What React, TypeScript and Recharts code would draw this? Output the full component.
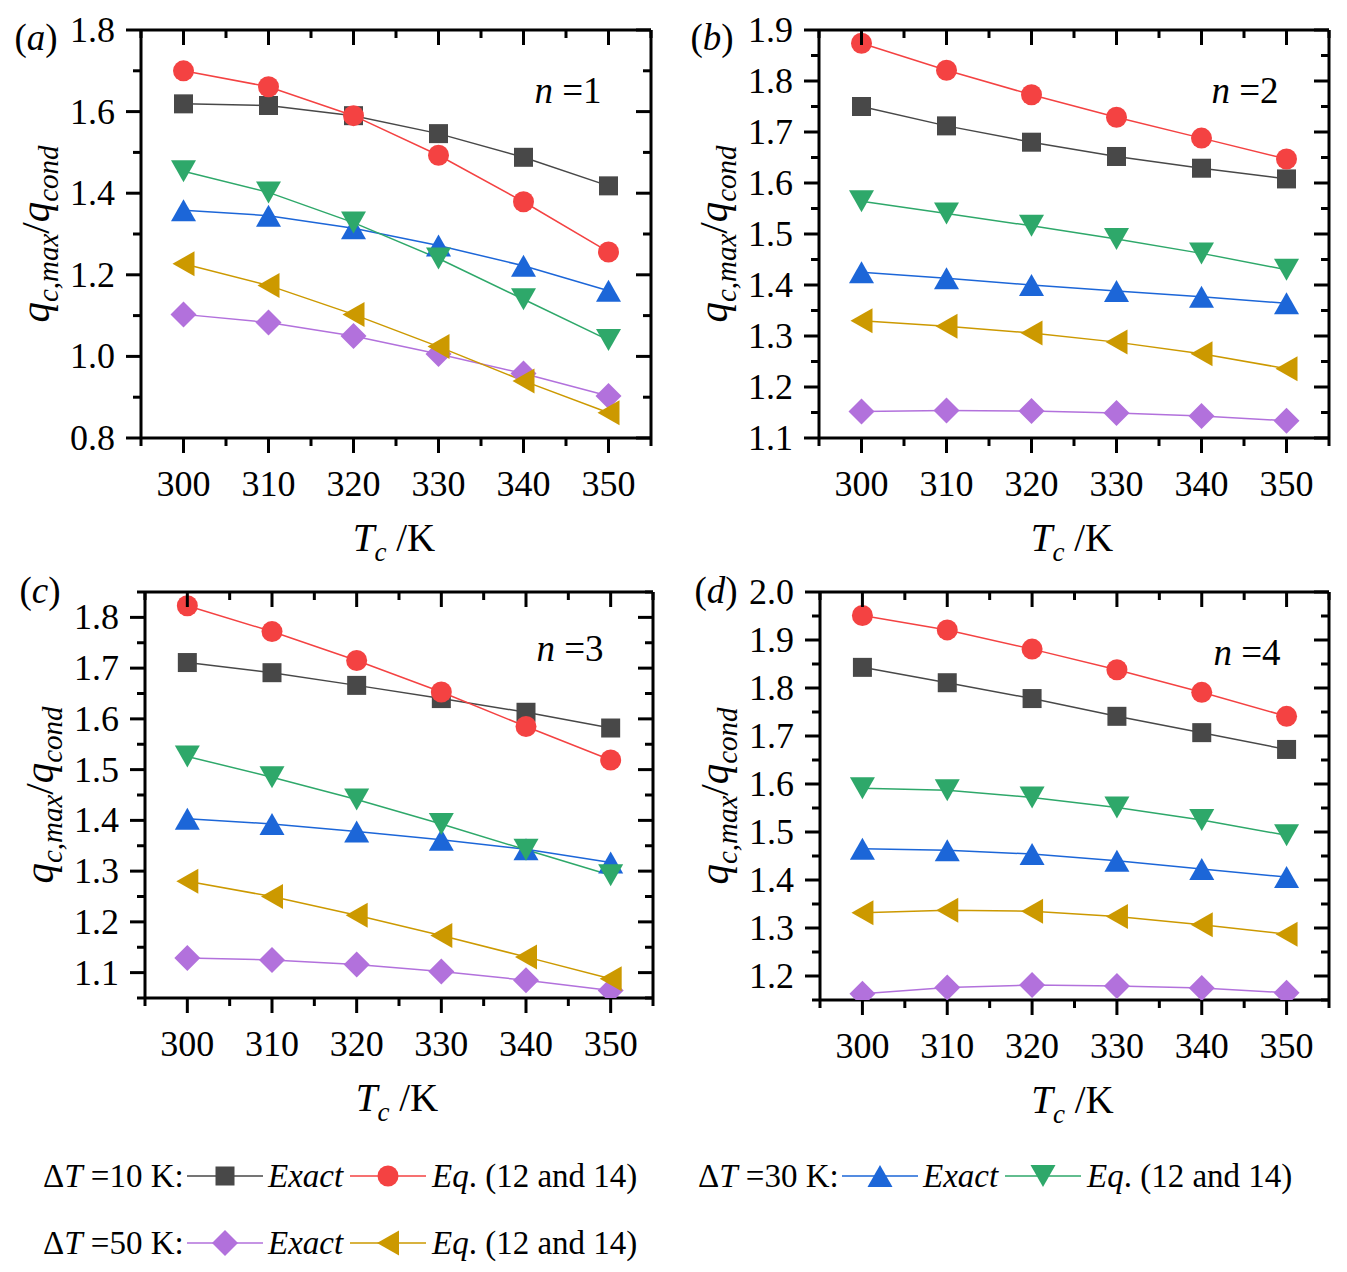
import React from 'react';
import { LineChart, Line, XAxis, YAxis, ReferenceLine } from 'recharts';

const FONT = '"Liberation Serif", "Times New Roman", serif';

// shared x values (T_c / K)
const TC = [300, 310, 320, 330, 340, 350];
const X_TICKS = [295, 300, 305, 310, 315, 320, 325, 330, 335, 340, 345, 350, 355];
const X_LABELS = [300, 310, 320, 330, 340, 350];

// (a) n = 1
const A_EXACT_10 = [1.619, 1.615, 1.59, 1.546, 1.488, 1.418];
const A_EQ_10 = [1.7, 1.661, 1.59, 1.493, 1.379, 1.256];
const A_EXACT_30 = [1.358, 1.345, 1.314, 1.272, 1.222, 1.161];
const A_EQ_30 = [1.454, 1.402, 1.328, 1.24, 1.14, 1.04];
const A_EXACT_50 = [1.103, 1.083, 1.05, 1.006, 0.958, 0.903];
const A_EQ_50 = [1.227, 1.174, 1.103, 1.024, 0.94, 0.862];
const A_Y_TICKS = [0.8, 0.9, 1.0, 1.1, 1.2, 1.3, 1.4, 1.5, 1.6, 1.7, 1.8];
const A_Y_LABELS = [0.8, 1.0, 1.2, 1.4, 1.6, 1.8];

// (b) n = 2
const B_EXACT_10 = [1.75, 1.712, 1.68, 1.652, 1.629, 1.608];
const B_EQ_10 = [1.874, 1.821, 1.773, 1.729, 1.688, 1.647];
const B_EXACT_30 = [1.425, 1.413, 1.4, 1.388, 1.377, 1.364];
const B_EQ_30 = [1.564, 1.54, 1.516, 1.49, 1.462, 1.43];
const B_EXACT_50 = [1.152, 1.154, 1.153, 1.149, 1.143, 1.134];
const B_EQ_50 = [1.33, 1.319, 1.306, 1.288, 1.265, 1.236];
const B_Y_TICKS = [1.1, 1.15, 1.2, 1.25, 1.3, 1.35, 1.4, 1.45, 1.5, 1.55, 1.6, 1.65, 1.7, 1.75, 1.8, 1.85, 1.9];
const B_Y_LABELS = [1.1, 1.2, 1.3, 1.4, 1.5, 1.6, 1.7, 1.8, 1.9];

// (c) n = 3
const C_EXACT_10 = [1.711, 1.691, 1.666, 1.64, 1.613, 1.582];
const C_EQ_10 = [1.823, 1.772, 1.715, 1.653, 1.585, 1.519];
const C_EXACT_30 = [1.403, 1.393, 1.378, 1.362, 1.343, 1.317];
const C_EQ_30 = [1.526, 1.485, 1.441, 1.393, 1.342, 1.292];
const C_EXACT_50 = [1.129, 1.125, 1.116, 1.102, 1.085, 1.065];
const C_EQ_50 = [1.28, 1.25, 1.213, 1.173, 1.131, 1.088];
const C_Y_TICKS = [1.05, 1.1, 1.15, 1.2, 1.25, 1.3, 1.35, 1.4, 1.45, 1.5, 1.55, 1.6, 1.65, 1.7, 1.75, 1.8, 1.85];
const C_Y_LABELS = [1.1, 1.2, 1.3, 1.4, 1.5, 1.6, 1.7, 1.8];

// (d) n = 4
const D_EXACT_10 = [1.843, 1.811, 1.778, 1.741, 1.707, 1.672];
const D_EQ_10 = [1.951, 1.921, 1.881, 1.838, 1.791, 1.741];
const D_EXACT_30 = [1.465, 1.462, 1.454, 1.44, 1.423, 1.406];
const D_EQ_30 = [1.591, 1.587, 1.572, 1.551, 1.525, 1.493];
const D_EXACT_50 = [1.163, 1.176, 1.181, 1.179, 1.175, 1.165];
const D_EQ_50 = [1.332, 1.337, 1.335, 1.324, 1.307, 1.287];
const D_Y_TICKS = [1.15, 1.2, 1.25, 1.3, 1.35, 1.4, 1.45, 1.5, 1.55, 1.6, 1.65, 1.7, 1.75, 1.8, 1.85, 1.9, 1.95, 2.0];
const D_Y_LABELS = [1.2, 1.3, 1.4, 1.5, 1.6, 1.7, 1.8, 1.9, 2.0];

type Shape = 'square' | 'circle' | 'up' | 'down' | 'diamond' | 'left';

const SERIES: { key: string; color: string; shape: Shape }[] = [
  { key: 'exact10', color: '#484848', shape: 'square' },
  { key: 'eq10', color: '#f44242', shape: 'circle' },
  { key: 'exact30', color: '#1c66d8', shape: 'up' },
  { key: 'eq30', color: '#2ea86a', shape: 'down' },
  { key: 'exact50', color: '#b271dc', shape: 'diamond' },
  { key: 'eq50', color: '#cc9900', shape: 'left' },
];

function Marker({ shape, cx, cy, color }: { shape: Shape; cx: number; cy: number; color: string }) {
  if (cx == null || cy == null || isNaN(cx) || isNaN(cy)) return null;
  switch (shape) {
    case 'square':
      return <rect x={cx - 9.5} y={cy - 9.5} width={19} height={19} fill={color} />;
    case 'circle':
      return <circle cx={cx} cy={cy} r={10.5} fill={color} />;
    case 'up':
      return <polygon points={`${cx},${cy - 11} ${cx + 12.5},${cy + 11} ${cx - 12.5},${cy + 11}`} fill={color} />;
    case 'down':
      return <polygon points={`${cx - 12.5},${cy - 11} ${cx + 12.5},${cy - 11} ${cx},${cy + 11}`} fill={color} />;
    case 'left':
      return <polygon points={`${cx - 11},${cy} ${cx + 11},${cy - 12.5} ${cx + 11},${cy + 12.5}`} fill={color} />;
    default:
      return <polygon points={`${cx},${cy - 13} ${cx + 13},${cy} ${cx},${cy + 13} ${cx - 13},${cy}`} fill={color} />;
  }
}

const near = (list: number[], v: number) => list.some((m) => Math.abs(m - v) < 1e-6);

// bottom tick (outward) + mirrored top tick (inward)
function XTick(props: any) {
  const { x, y, payload, plotH } = props;
  const v = payload.value;
  const major = near(X_LABELS, v);
  const len = major ? 15 : 8;
  return (
    <g>
      <line x1={x} y1={y} x2={x} y2={y + len} stroke="#000" strokeWidth={3} />
      <line x1={x} y1={y - plotH} x2={x} y2={y - plotH + len} stroke="#000" strokeWidth={3} />
      {major && (
        <text x={x} y={y + 58} textAnchor="middle" fontFamily={FONT} fontSize={36} fill="#000">
          {v}
        </text>
      )}
    </g>
  );
}

// left tick (outward) + mirrored right tick (inward)
function YTick(props: any) {
  const { x, y, payload, plotW, labels } = props;
  const v = payload.value;
  const major = near(labels, v);
  const len = major ? 15 : 8;
  return (
    <g>
      <line x1={x - len} y1={y} x2={x} y2={y} stroke="#000" strokeWidth={3} />
      <line x1={x + plotW - len} y1={y} x2={x + plotW} y2={y} stroke="#000" strokeWidth={3} />
      {major && (
        <text x={x - 26} y={y + 12} textAnchor="end" fontFamily={FONT} fontSize={36} fill="#000">
          {v.toFixed(1)}
        </text>
      )}
    </g>
  );
}

interface PanelProps {
  left: number;
  top: number;
  w: number;
  h: number;
  series: number[][];
  yDomain: [number, number];
  yTicks: number[];
  yLabels: number[];
  letter: string;
  n: number;
  nPos: [number, number];
  letterPos: [number, number];
}

const center = (x: number, y: number): React.CSSProperties => ({
  position: 'absolute',
  left: x,
  top: y,
  transform: 'translate(-50%, -50%)',
  whiteSpace: 'nowrap',
  lineHeight: 1,
  fontFamily: FONT,
  color: '#000',
});

function Panel({ left, top, w, h, series, yDomain, yTicks, yLabels, letter, n, nPos, letterPos }: PanelProps) {
  const data = TC.map((tc, i) => {
    const row: Record<string, number> = { tc };
    SERIES.forEach((s, k) => {
      row[s.key] = series[k][i];
    });
    return row;
  });
  const YW = 141;
  const XH = 122;
  return (
    <>
      <div style={{ position: 'absolute', left: left - YW, top: top - 30 }}>
        <LineChart
          width={YW + w + 20}
          height={30 + h + XH}
          data={data}
          margin={{ top: 30, right: 20, bottom: 0, left: 0 }}
        >
          <XAxis
            type="number"
            dataKey="tc"
            domain={[295, 355]}
            ticks={X_TICKS}
            interval={0}
            height={XH}
            tickSize={0}
            tickMargin={0}
            tickLine={false}
            axisLine={{ stroke: '#000', strokeWidth: 3 }}
            tick={(p: any) => <XTick {...p} plotH={h} />}
            allowDataOverflow
          />
          <YAxis
            type="number"
            domain={yDomain}
            ticks={yTicks}
            interval={0}
            width={YW}
            tickSize={0}
            tickMargin={0}
            tickLine={false}
            axisLine={{ stroke: '#000', strokeWidth: 3 }}
            tick={(p: any) => <YTick {...p} plotW={w} labels={yLabels} />}
            allowDataOverflow
          />
          <ReferenceLine y={yDomain[1]} stroke="#000" strokeWidth={3} />
          <ReferenceLine x={355} stroke="#000" strokeWidth={3} />
          {SERIES.map((s) => (
            <Line
              key={s.key}
              type="linear"
              dataKey={s.key}
              stroke={s.color}
              strokeWidth={1.5}
              isAnimationActive={false}
              dot={(p: any) => (
                <Marker key={`${s.key}-${p.index}`} shape={s.shape} cx={p.cx} cy={p.cy} color={s.color} />
              )}
              activeDot={false}
            />
          ))}
        </LineChart>
      </div>
      <div style={{ ...center(letterPos[0], letterPos[1]), fontSize: 37 }}>
        (<i>{letter}</i>)
      </div>
      <div style={{ ...center(nPos[0], nPos[1]), fontSize: 37 }}>
        <i>n</i> =<span>{n}</span>
      </div>
      <div style={{ ...center(left - 102, top + h / 2), fontSize: 41, transform: 'translate(-50%, -50%) rotate(-90deg)' }}>
        <i>q</i>
        <i style={{ fontSize: 29, verticalAlign: '-0.3em' }}>c,max</i>/<i>q</i>
        <i style={{ fontSize: 29, verticalAlign: '-0.3em' }}>cond</i>
      </div>
      <div style={{ ...center(left + w / 2 - 2, top + h + 104), fontSize: 39 }}>
        <i>T</i>
        <i style={{ fontSize: 27, verticalAlign: '-0.4em' }}>c</i> /K
      </div>
    </>
  );
}

function LegendSymbol({ shape, color, x, y }: { shape: Shape; color: string; x: number; y: number }) {
  return (
    <svg style={{ position: 'absolute', left: x, top: y - 20 }} width={76} height={40}>
      <line x1={0} y1={20} x2={76} y2={20} stroke={color} strokeWidth={2} opacity={0.75} />
      <Marker shape={shape} cx={38} cy={20} color={color} />
    </svg>
  );
}

function LegendText({ x, y, children }: { x: number; y: number; children: React.ReactNode }) {
  return (
    <div
      style={{
        position: 'absolute',
        left: x,
        top: y,
        transform: 'translateY(-50%)',
        fontFamily: FONT,
        fontSize: 33,
        lineHeight: 1,
        whiteSpace: 'nowrap',
        color: '#000',
      }}
    >
      {children}
    </div>
  );
}

function LegendGroup({ x, y, dt, a, b }: { x: number; y: number; dt: number; a: number; b: number }) {
  const sa = SERIES[a];
  const sb = SERIES[b];
  return (
    <>
      <LegendText x={x} y={y}>
        Δ<i>T</i> ={dt} K:
      </LegendText>
      <LegendSymbol shape={sa.shape} color={sa.color} x={x + 144} y={y} />
      <LegendText x={x + 225} y={y}>
        <i>Exact</i>
      </LegendText>
      <LegendSymbol shape={sb.shape} color={sb.color} x={x + 307} y={y} />
      <LegendText x={x + 389} y={y}>
        <i>Eq</i>. (12 and 14)
      </LegendText>
    </>
  );
}

export default function App() {
  return (
    <div style={{ position: 'absolute', left: 0, top: 0, width: 1347, height: 1272, background: '#fff', overflow: 'hidden' }}>
      <Panel
        left={141}
        top={30}
        w={510}
        h={408}
        series={[A_EXACT_10, A_EQ_10, A_EXACT_30, A_EQ_30, A_EXACT_50, A_EQ_50]}
        yDomain={[0.8, 1.8]}
        yTicks={A_Y_TICKS}
        yLabels={A_Y_LABELS}
        letter="a"
        n={1}
        nPos={[568, 90]}
        letterPos={[36, 37]}
      />
      <Panel
        left={819}
        top={30}
        w={510}
        h={408}
        series={[B_EXACT_10, B_EQ_10, B_EXACT_30, B_EQ_30, B_EXACT_50, B_EQ_50]}
        yDomain={[1.1, 1.9]}
        yTicks={B_Y_TICKS}
        yLabels={B_Y_LABELS}
        letter="b"
        n={2}
        nPos={[1245, 90]}
        letterPos={[712, 37]}
      />
      <Panel
        left={145}
        top={592}
        w={508}
        h={406}
        series={[C_EXACT_10, C_EQ_10, C_EXACT_30, C_EQ_30, C_EXACT_50, C_EQ_50]}
        yDomain={[1.05, 1.85]}
        yTicks={C_Y_TICKS}
        yLabels={C_Y_LABELS}
        letter="c"
        n={3}
        nPos={[570, 648]}
        letterPos={[40, 590]}
      />
      <Panel
        left={820}
        top={592}
        w={509}
        h={408}
        series={[D_EXACT_10, D_EQ_10, D_EXACT_30, D_EQ_30, D_EXACT_50, D_EQ_50]}
        yDomain={[1.15, 2.0]}
        yTicks={D_Y_TICKS}
        yLabels={D_Y_LABELS}
        letter="d"
        n={4}
        nPos={[1247, 652]}
        letterPos={[716, 590]}
      />
      <LegendGroup x={43} y={1176} dt={10} a={0} b={1} />
      <LegendGroup x={698} y={1176} dt={30} a={2} b={3} />
      <LegendGroup x={43} y={1243} dt={50} a={4} b={5} />
    </div>
  );
}
